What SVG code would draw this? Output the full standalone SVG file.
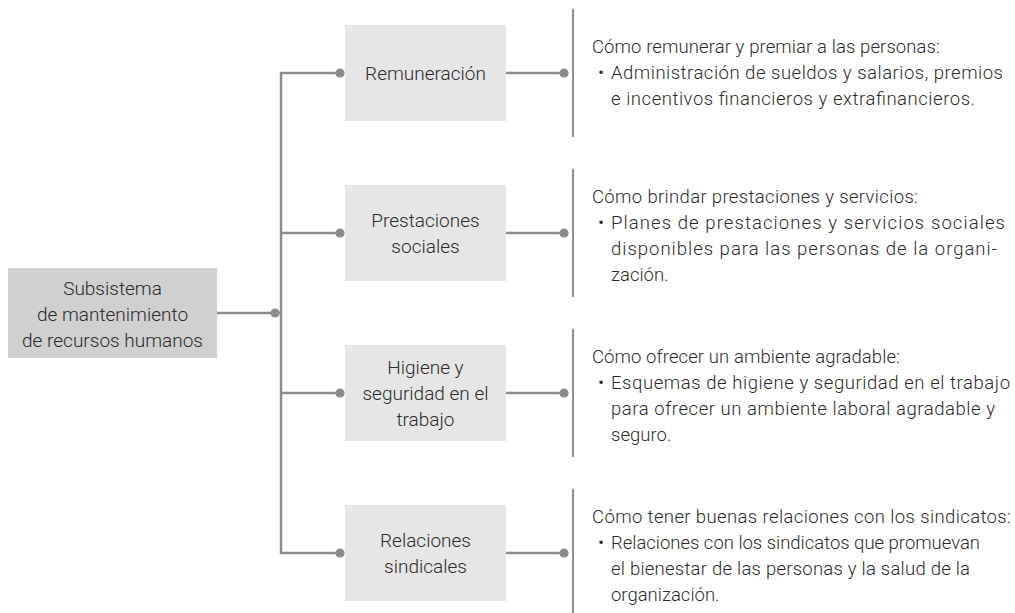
<svg xmlns="http://www.w3.org/2000/svg" width="1015" height="613" viewBox="0 0 1015 613">
<style>
.ln{stroke:#8c8c8c;stroke-width:2.5;fill:none}
.bar{stroke:#8c8c8c;stroke-width:2;fill:none}
.dot{fill:#8c8c8c}
.box{fill:#e6e6e6}
.root{fill:#d0d0d0}
.t{font-family:Roboto,"Liberation Sans",sans-serif;font-weight:300;font-size:19px;fill:#2b2b2b;text-anchor:middle}
.d{font-family:Roboto,"Liberation Sans",sans-serif;font-weight:300;font-size:18.5px;fill:#2b2b2b}
</style>
<rect width="1015" height="613" fill="#ffffff"/>
<g id="connectors">
<line class="ln" x1="281" y1="72" x2="281" y2="554"/>
<line class="ln" x1="217" y1="313" x2="281" y2="313"/>
<circle class="dot" cx="275" cy="313" r="4.6"/>
<line class="ln" x1="280" y1="73" x2="340" y2="73"/>
<circle class="dot" cx="340" cy="73" r="4.6"/>
<line class="ln" x1="506" y1="73" x2="564" y2="73"/>
<circle class="dot" cx="564" cy="73" r="4.6"/>
<line class="ln" x1="280" y1="233" x2="340" y2="233"/>
<circle class="dot" cx="340" cy="233" r="4.6"/>
<line class="ln" x1="506" y1="233" x2="564" y2="233"/>
<circle class="dot" cx="564" cy="233" r="4.6"/>
<line class="ln" x1="280" y1="393" x2="340" y2="393"/>
<circle class="dot" cx="340" cy="393" r="4.6"/>
<line class="ln" x1="506" y1="393" x2="564" y2="393"/>
<circle class="dot" cx="564" cy="393" r="4.6"/>
<line class="ln" x1="280" y1="553" x2="340" y2="553"/>
<circle class="dot" cx="340" cy="553" r="4.6"/>
<line class="ln" x1="506" y1="553" x2="564" y2="553"/>
<circle class="dot" cx="564" cy="553" r="4.6"/>
</g>
<g id="root">
<rect class="root" x="8" y="268" width="209" height="90"/>
<text class="t" x="112.5" y="295">Subsistema</text>
<text class="t" x="112.5" y="321">de mantenimiento</text>
<text class="t" x="112.5" y="347">de recursos humanos</text>
</g>
<g id="remuneracion">
<rect class="box" x="345" y="25" width="161" height="96"/>
<text class="t" x="425.5" y="80">Remuneración</text>
</g>
<g id="prestaciones">
<rect class="box" x="345" y="185" width="161" height="96"/>
<text class="t" x="425.5" y="227">Prestaciones</text>
<text class="t" x="425.5" y="253">sociales</text>
</g>
<g id="higiene">
<rect class="box" x="345" y="345" width="161" height="96"/>
<text class="t" x="425.5" y="374">Higiene y</text>
<text class="t" x="425.5" y="400">seguridad en el</text>
<text class="t" x="425.5" y="426">trabajo</text>
</g>
<g id="relaciones">
<rect class="box" x="345" y="505" width="161" height="96"/>
<text class="t" x="425.5" y="547">Relaciones</text>
<text class="t" x="425.5" y="573">sindicales</text>
</g>
<g id="desc-remuneracion">
<line class="bar" x1="573" y1="9" x2="573" y2="137"/>
<text class="d" x="592" y="53" textLength="348" lengthAdjust="spacing">Cómo remunerar y premiar a las personas:</text>
<text class="d" x="598" y="79">•</text>
<text class="d" x="611" y="79" textLength="392" lengthAdjust="spacing">Administración de sueldos y salarios, premios</text>
<text class="d" x="611" y="105" textLength="364" lengthAdjust="spacing">e incentivos financieros y extrafinancieros.</text>
</g>
<g id="desc-prestaciones">
<line class="bar" x1="573" y1="169" x2="573" y2="297"/>
<text class="d" x="592" y="203" textLength="326" lengthAdjust="spacing">Cómo brindar prestaciones y servicios:</text>
<text class="d" x="598" y="229">•</text>
<text class="d" x="611" y="229" textLength="394" lengthAdjust="spacing">Planes de prestaciones y servicios sociales</text>
<text class="d" x="611" y="255" textLength="386" lengthAdjust="spacing">disponibles para las personas de la organi-</text>
<text class="d" x="611" y="281">zación.</text>
</g>
<g id="desc-higiene">
<line class="bar" x1="573" y1="329" x2="573" y2="457"/>
<text class="d" x="592" y="363" textLength="308" lengthAdjust="spacing">Cómo ofrecer un ambiente agradable:</text>
<text class="d" x="598" y="389">•</text>
<text class="d" x="611" y="389" textLength="399" lengthAdjust="spacing">Esquemas de higiene y seguridad en el trabajo</text>
<text class="d" x="611" y="415" textLength="384" lengthAdjust="spacing">para ofrecer un ambiente laboral agradable y</text>
<text class="d" x="611" y="441">seguro.</text>
</g>
<g id="desc-relaciones">
<line class="bar" x1="573" y1="489" x2="573" y2="613"/>
<text class="d" x="592" y="523" textLength="419" lengthAdjust="spacing">Cómo tener buenas relaciones con los sindicatos:</text>
<text class="d" x="598" y="549">•</text>
<text class="d" x="611" y="549" textLength="369" lengthAdjust="spacing">Relaciones con los sindicatos que promuevan</text>
<text class="d" x="611" y="575" textLength="359" lengthAdjust="spacing">el bienestar de las personas y la salud de la</text>
<text class="d" x="611" y="601">organización.</text>
</g>
</svg>
